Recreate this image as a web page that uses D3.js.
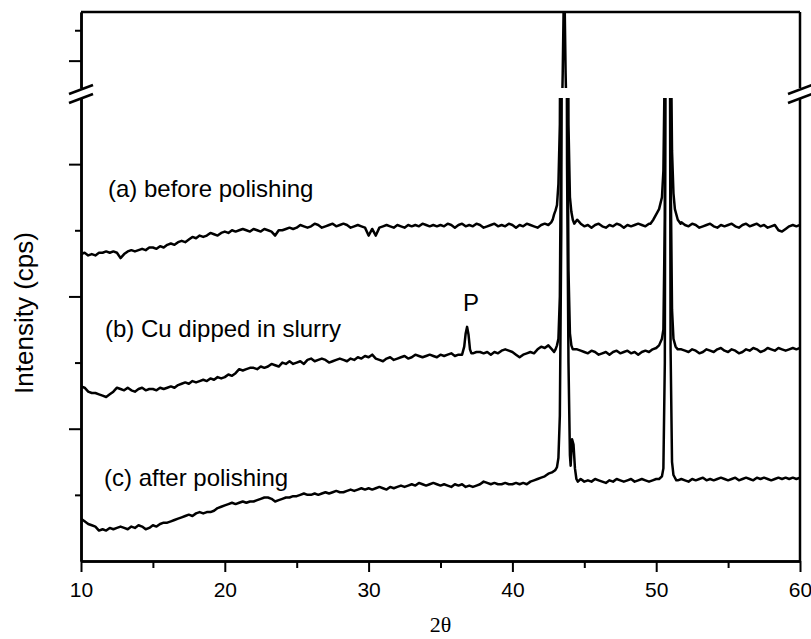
<!DOCTYPE html>
<html>
<head>
<meta charset="utf-8">
<script src="https://cdn.jsdelivr.net/npm/d3@7"></script>
<style>
  body { margin: 0; background: #fff; }
  text { font-family: "Liberation Sans", Arial, Helvetica, sans-serif; fill: #000; }
</style>
</head>
<body>
<div id="chart"></div>
<script>

//******************************************************************************
//**  Data (2theta grid every 0.25 deg, intensity in arbitrary cps units)
//******************************************************************************
var twoTheta = d3.range(10, 60.0001, 0.25);

var baseA = [
    232, 233, 231, 232, 231, 233, 233, 234, 233, 234, 233, 229, 232, 234, 235, 234, 235, 236, 235, 237,
    237, 236, 238, 237, 239, 240, 239, 241, 242, 241, 243, 245, 244, 246, 245, 246, 248, 247, 246, 248,
    249, 248, 250, 249, 250, 251, 250, 249, 251, 250, 249, 251, 250, 249, 246, 250, 250, 251, 252, 251,
    252, 254, 253, 252, 253, 255, 254, 252, 253, 254, 255, 253, 254, 255, 254, 252, 253, 254, 253, 252,
    246, 251, 246, 252, 253, 254, 253, 252, 254, 253, 252, 254, 253, 254, 253, 255, 254, 253, 254, 253,
    254, 253, 255, 254, 252, 254, 255, 253, 254, 253, 255, 254, 252, 253, 254, 255, 253, 254, 253, 255,
    254, 252, 254, 253, 255, 254, 253, 252, 254, 255, 254, 256, 256, 258, 262, 300, 300, 270, 258, 255,
    253, 254, 252, 254, 255, 253, 252, 254, 253, 255, 254, 252, 254, 253, 254, 255, 254, 253, 255, 256,
    262, 268, 300, 400, 300, 270, 260, 256, 254, 253, 255, 254, 252, 253, 254, 255, 253, 252, 254, 253,
    254, 255, 253, 252, 254, 255, 253, 254, 255, 253, 254, 252, 253, 254, 250, 249, 251, 253, 254, 253,
    254
];

var baseB = [
    132, 131, 128, 127, 127, 126, 125, 124, 126, 128, 131, 130, 129, 131, 129, 128, 130, 131, 129, 130,
    130, 129, 131, 130, 131, 132, 131, 133, 134, 135, 134, 136, 135, 136, 137, 136, 138, 137, 139, 138,
    139, 141, 140, 142, 145, 144, 145, 146, 146, 145, 147, 146, 147, 149, 148, 147, 150, 149, 151, 149,
    150, 151, 149, 152, 153, 151, 152, 153, 152, 150, 151, 152, 153, 152, 151, 153, 152, 154, 153, 155,
    154, 156, 153, 152, 151, 153, 154, 152, 153, 154, 155, 153, 154, 156, 155, 154, 155, 156, 155, 154,
    156, 155, 156, 157, 155, 156, 156, 155, 156, 157, 158, 158, 157, 158, 156, 158, 157, 159, 160, 159,
    158, 156, 154, 156, 157, 158, 157, 160, 162, 161, 163, 160, 158, 160, 168, 900, 900, 160, 160, 159,
    158, 157, 159, 158, 156, 157, 158, 156, 158, 159, 157, 158, 159, 157, 158, 156, 158, 159, 158, 160,
    161, 163, 170, 800, 800, 170, 162, 160, 159, 158, 160, 159, 157, 158, 160, 159, 158, 160, 161, 159,
    158, 160, 159, 157, 158, 160, 159, 161, 160, 158, 159, 161, 160, 159, 161, 160, 159, 160, 161, 160,
    161
];

var baseC = [
    32, 30, 28, 27, 26, 23, 24, 23, 25, 24, 25, 26, 25, 24, 26, 25, 27, 26, 24, 25,
    27, 26, 28, 29, 29, 30, 31, 32, 33, 34, 35, 34, 36, 37, 36, 37, 37, 38, 40, 41,
    42, 43, 44, 43, 44, 45, 44, 45, 45, 46, 47, 48, 48, 47, 45, 46, 47, 48, 48, 49,
    49, 50, 51, 50, 50, 51, 50, 51, 52, 51, 52, 53, 52, 52, 53, 54, 53, 54, 55, 54,
    55, 54, 55, 56, 55, 54, 56, 55, 56, 57, 56, 57, 58, 57, 59, 58, 57, 58, 59, 58,
    57, 58, 57, 56, 58, 57, 58, 56, 57, 56, 57, 58, 60, 59, 58, 59, 58, 58, 59, 58,
    58, 59, 58, 59, 58, 60, 61, 62, 63, 64, 66, 67, 68, 71, 110, 800, 800, 80, 88, 62,
    60, 61, 60, 62, 61, 60, 59, 61, 60, 62, 61, 60, 61, 62, 60, 61, 62, 61, 60, 61,
    62, 61, 64, 700, 700, 65, 61, 62, 61, 60, 62, 61, 62, 63, 61, 62, 61, 62, 63, 62,
    61, 62, 63, 61, 62, 63, 62, 61, 63, 62, 63, 62, 61, 62, 63, 62, 63, 62, 63, 62,
    63
];

// Peaks sampled more finely: [2theta, intensity]
var peaksA = [
    [[42.7,256],[42.8,258],[42.9,262],[43.0,265],[43.1,269],[43.2,285],[43.3,330],[43.4,600],[43.5,1800],
     [43.6,3500],[43.7,1800],[43.8,700],[43.9,330],[44.0,275],[44.1,264],[44.2,258],[44.3,255]],
    [[49.6,255],[49.8,258],[50.0,262],[50.2,266],[50.4,275],[50.5,295],[50.6,380],[50.7,900],[50.8,1400],
     [50.9,900],[51.0,420],[51.1,310],[51.2,278],[51.3,266],[51.5,258],[51.7,255]]
];

var peaksB = [
    [[36.5,156],[36.65,162],[36.75,172],[36.85,177],[36.95,171],[37.05,160],[37.15,157]],
    [[42.9,158],[43.0,160],[43.1,163],[43.2,168],[43.3,200],[43.4,350],[43.5,900],[43.6,1400],
     [43.7,900],[43.8,400],[43.9,220],[44.0,172],[44.1,163],[44.2,160]],
    [[50.2,163],[50.4,168],[50.5,175],[50.6,260],[50.7,800],[50.8,1200],[50.9,800],[51.0,300],
     [51.1,190],[51.2,168],[51.35,162],[51.5,160]]
];

var peaksC = [
    [[42.9,68],[43.0,69],[43.1,71],[43.2,78],[43.3,110],[43.4,250],[43.5,800],[43.6,1400],[43.7,800],
     [43.8,300],[43.9,150],[44.0,80],[44.05,72],[44.15,92],[44.25,88],[44.35,70],[44.45,62],[44.55,60]],
    [[50.2,62],[50.4,64],[50.5,70],[50.6,150],[50.7,700],[50.8,1200],[50.9,700],[51.0,160],
     [51.1,75],[51.2,65],[51.4,61]]
];

var seriesLabels = ["(a) before polishing", "(b) Cu dipped in slurry", "(c) after polishing"];
var xTicks = [10, 20, 30, 40, 50, 60];
var xMinorTicks = [15, 25, 35, 45, 55];
var yLowTicks = [100, 200, 300];
var yLowMinorTicks = [50, 150, 250];
var yHighTicks = [2000];
var yHighMinorTicks = [2500];


//******************************************************************************
//**  Layout
//******************************************************************************
var margin = {top: 12, right: 11, bottom: 78, left: 81};
var width = 811 - margin.left - margin.right;
var height = 639 - margin.top - margin.bottom;
var upperH = 76, gap = 10;

var svg = d3.select("#chart").append("svg")
    .attr("width", 811)
    .attr("height", 639)
    .style("display", "block");

var g = svg.append("g")
    .attr("transform", "translate(" + margin.left + "," + margin.top + ")");

var x = d3.scaleLinear().domain([10, 60]).range([0, width]);
var yLow = d3.scaleLinear().domain([0, 350]).range([height, upperH + gap]);
var yHigh = d3.scaleLinear().domain([1550, 2800]).range([upperH, 0]);


//**************************************************************************
//** buildSeries: baseline points outside peak windows + fine peak points
//**************************************************************************
var buildSeries = function(base, peaks){
    var pts = [];
    twoTheta.forEach(function(t, i){
        var inside = peaks.some(function(p){
            return t >= p[0][0] - 1e-9 && t <= p[p.length - 1][0] + 1e-9;
        });
        if (!inside) pts.push([t, base[i]]);
    });
    peaks.forEach(function(p){
        p.forEach(function(d){ pts.push(d); });
    });
    pts.sort(function(a, b){ return a[0] - b[0]; });
    return pts;
};

var series = [
    buildSeries(baseA, peaksA),
    buildSeries(baseB, peaksB),
    buildSeries(baseC, peaksC)
];


// clip paths for the two panels of the broken axis
var defs = svg.append("defs");
defs.append("clipPath").attr("id", "clipLow")
    .append("rect")
    .attr("x", 0).attr("y", upperH + gap)
    .attr("width", width).attr("height", height - upperH - gap);
defs.append("clipPath").attr("id", "clipHigh")
    .append("rect")
    .attr("x", 0).attr("y", 0)
    .attr("width", width).attr("height", upperH);

var lineLow = d3.line()
    .x(function(d){ return x(d[0]); })
    .y(function(d){ return yLow(d[1]); });
var lineHigh = d3.line()
    .x(function(d){ return x(d[0]); })
    .y(function(d){ return yHigh(d[1]); });

[["clipLow", lineLow], ["clipHigh", lineHigh]].forEach(function(panel){
    g.append("g")
        .attr("clip-path", "url(#" + panel[0] + ")")
        .selectAll("path")
        .data(series)
        .enter()
        .append("path")
        .attr("d", panel[1])
        .attr("fill", "none")
        .attr("stroke", "#000")
        .attr("stroke-width", 2.5)
        .attr("stroke-linejoin", "round");
});


//**************************************************************************
//** Axes
//**************************************************************************
var styleAxis = function(sel){
    sel.select(".domain").attr("stroke", "#000").attr("stroke-width", 2.5);
    sel.selectAll(".tick line").attr("stroke", "#000").attr("stroke-width", 2);
};

// x axis
g.append("g")
    .attr("transform", "translate(0," + height + ")")
    .call(d3.axisBottom(x).tickValues(xMinorTicks).tickSize(7).tickSizeOuter(0).tickFormat(""))
    .call(styleAxis);
var xAxis = g.append("g")
    .attr("transform", "translate(0," + height + ")")
    .call(d3.axisBottom(x).tickValues(xTicks).tickSize(11).tickSizeOuter(0).tickPadding(10))
    .call(styleAxis);
xAxis.selectAll(".tick text")
    .attr("font-size", "21px")
    .attr("font-family", "'Liberation Sans', Arial, sans-serif")
    .attr("fill", "#000");

// left axis, lower and upper panel
g.append("g")
    .call(d3.axisLeft(yLow).tickValues(yLowMinorTicks).tickSize(6).tickSizeOuter(0).tickFormat(""))
    .call(styleAxis);
g.append("g")
    .call(d3.axisLeft(yLow).tickValues(yLowTicks).tickSize(12).tickSizeOuter(0).tickFormat(""))
    .call(styleAxis);
g.append("g")
    .call(d3.axisLeft(yHigh).tickValues(yHighMinorTicks).tickSize(6).tickSizeOuter(0).tickFormat(""))
    .call(styleAxis);
g.append("g")
    .call(d3.axisLeft(yHigh).tickValues(yHighTicks).tickSize(12).tickSizeOuter(0).tickFormat(""))
    .call(styleAxis);

// frame: top and right
g.append("line")
    .attr("x1", 0).attr("x2", width).attr("y1", 0).attr("y2", 0)
    .attr("stroke", "#000").attr("stroke-width", 2.5);
g.append("line")
    .attr("x1", width).attr("x2", width).attr("y1", 0).attr("y2", upperH)
    .attr("stroke", "#000").attr("stroke-width", 2.5);
g.append("line")
    .attr("x1", width).attr("x2", width).attr("y1", upperH + gap).attr("y2", height)
    .attr("stroke", "#000").attr("stroke-width", 2.5);

// break marks
[0, width].forEach(function(bx){
    [upperH + 1.5, upperH + gap + 0.5].forEach(function(by){
        g.append("line")
            .attr("x1", bx - 12).attr("y1", by + 4.5)
            .attr("x2", bx + 12).attr("y2", by - 4.5)
            .attr("stroke", "#000").attr("stroke-width", 2.5);
    });
});


//**************************************************************************
//** Labels
//**************************************************************************
g.append("text")
    .attr("x", width / 2)
    .attr("y", 620)
    .attr("text-anchor", "middle")
    .attr("font-size", "22px")
    .style("font-family", "'Liberation Serif', 'Times New Roman', serif")
    .text("2θ");

svg.append("text")
    .attr("transform", "translate(33,313) rotate(-90)")
    .attr("text-anchor", "middle")
    .attr("font-size", "26px")
    .text("Intensity (cps)");

var labelPos = [[108, 197], [105, 337], [104, 486]];
seriesLabels.forEach(function(lbl, i){
    svg.append("text")
        .attr("x", labelPos[i][0])
        .attr("y", labelPos[i][1])
        .attr("font-size", "24px")
        .text(lbl);
});

svg.append("text")
    .attr("x", 471)
    .attr("y", 311)
    .attr("text-anchor", "middle")
    .attr("font-size", "24px")
    .text("P");

</script>
</body>
</html>
